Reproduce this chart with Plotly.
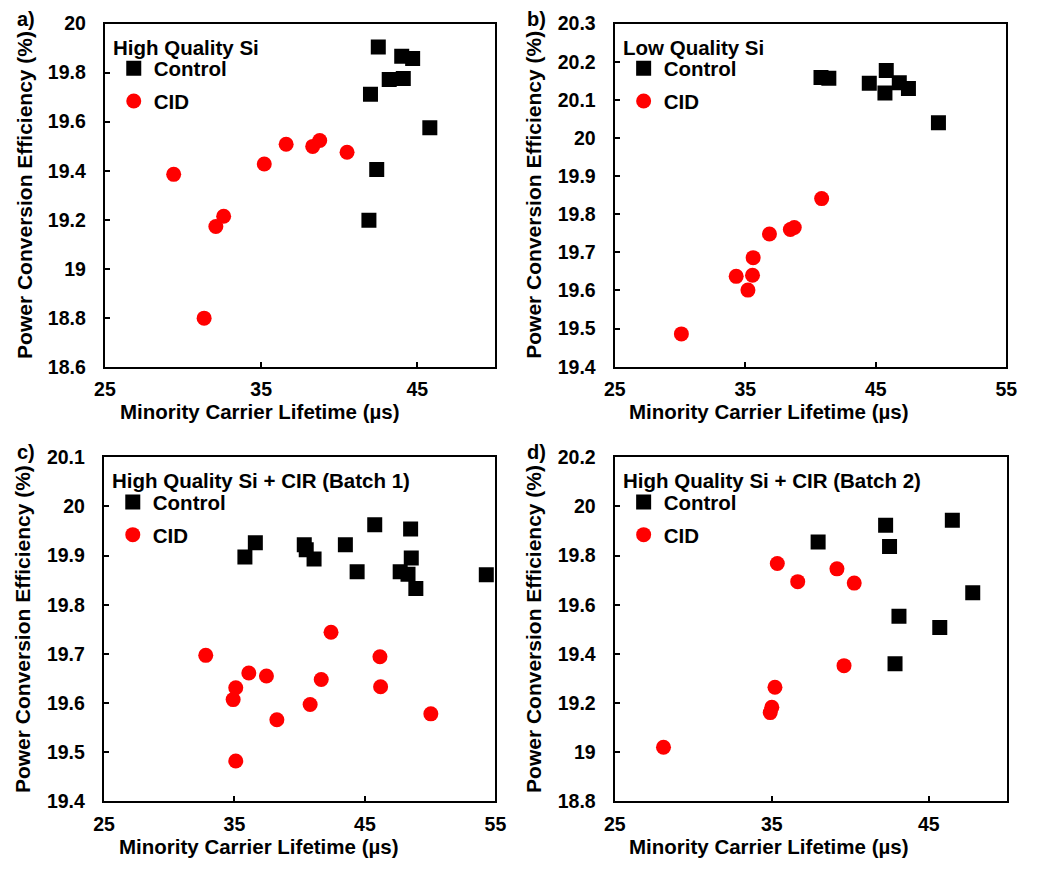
import plotly.graph_objects as go

# ---------------- data ----------------
# Panel a) High Quality Si
a_ctrl_x = [42.5, 44.0, 44.7, 43.2, 44.1, 42.0, 45.8, 42.4, 41.9]
a_ctrl_y = [19.905, 19.867, 19.858, 19.772, 19.776, 19.712, 19.575, 19.405, 19.198]
a_cid_x = [29.4, 35.2, 36.6, 38.3, 38.75, 40.5, 32.6, 32.1, 31.35]
a_cid_y = [19.385, 19.427, 19.508, 19.499, 19.523, 19.475, 19.214, 19.172, 18.798]

# Panel b) Low Quality Si
b_ctrl_x = [40.8, 41.4, 44.5, 45.8, 45.7, 46.8, 47.5, 49.8]
b_ctrl_y = [20.159, 20.157, 20.144, 20.177, 20.118, 20.145, 20.130, 20.040]
b_cid_x = [40.85, 38.45, 38.75, 36.85, 35.6, 35.55, 34.3, 35.2, 30.1]
b_cid_y = [19.841, 19.760, 19.765, 19.748, 19.686, 19.640, 19.637, 19.601, 19.486]

# Panel c) High Quality Si + CIR (Batch 1)
c_ctrl_x = [35.8, 36.6, 40.35, 40.5, 41.1, 43.5, 44.4, 45.75, 48.5, 48.55, 47.7, 48.3, 48.9, 54.3]
c_ctrl_y = [19.897, 19.926, 19.922, 19.912, 19.893, 19.922, 19.867, 19.963,
            19.954, 19.895, 19.867, 19.862, 19.833, 19.861]
c_cid_x = [32.8, 36.1, 37.45, 35.1, 34.9, 38.25, 35.1, 40.8, 41.65, 42.4, 46.15, 46.2, 50.05]
c_cid_y = [19.697, 19.661, 19.655, 19.631, 19.607, 19.566, 19.482, 19.597,
           19.648, 19.744, 19.694, 19.633, 19.578]

# Panel d) High Quality Si + CIR (Batch 2)
d_ctrl_x = [37.95, 42.25, 42.5, 46.5, 47.8, 43.1, 45.7, 42.85]
d_ctrl_y = [19.855, 19.923, 19.837, 19.944, 19.649, 19.553, 19.507, 19.360]
d_cid_x = [35.35, 36.65, 39.15, 40.25, 39.6, 35.2, 35.0, 34.9, 28.1]
d_cid_y = [19.768, 19.694, 19.746, 19.688, 19.352, 19.264, 19.183, 19.161, 19.020]

panel_titles = ["High Quality Si", "Low Quality Si",
                "High Quality Si + CIR (Batch 1)", "High Quality Si + CIR (Batch 2)"]
panel_letters = ["a)", "b)", "c)", "d)"]
x_ranges = [[25, 50], [25, 55], [25, 55], [25, 50]]
y_ranges = [[18.6, 20.0], [19.4, 20.3], [19.4, 20.1], [18.8, 20.2]]
y_dticks = [0.2, 0.1, 0.1, 0.2]
series_names = ["Control", "CID"]
x_title = "Minority Carrier Lifetime (µs)"
y_title = "Power Conversion Efficiency (%)"

ctrl_data = [(a_ctrl_x, a_ctrl_y), (b_ctrl_x, b_ctrl_y), (c_ctrl_x, c_ctrl_y), (d_ctrl_x, d_ctrl_y)]
cid_data = [(a_cid_x, a_cid_y), (b_cid_x, b_cid_y), (c_cid_x, c_cid_y), (d_cid_x, d_cid_y)]

# ---------------- layout geometry ----------------
# positions below are page pixels of the 1039x878 window; the page body keeps
# the browser's default 8px margin, so the figure is sized to fit inside it.
PAGE_W, PAGE_H = 1039, 878
OFF = 8
W, H = PAGE_W - OFF, PAGE_H - 2 * OFF
boxes = [(104, 503, 21, 373), (625, 1025, 21, 373), (103, 503, 466, 819), (625, 1026, 466, 819)]
letter_pos = [(12, 16), (533, 16), (12, 461), (533, 461)]

FONT = "Liberation Sans, Arial, sans-serif"


def bfont(size):
    return dict(family=FONT, size=size, color="black", weight="bold")


def px(x):
    return (x - OFF) / W


def py(y):
    return 1 - (y - OFF) / H


fig = go.Figure()
layout = dict(
    width=W, height=H, margin=dict(l=0, r=0, t=0, b=0),
    paper_bgcolor="white", plot_bgcolor="white",
    font=bfont(19), showlegend=True, annotations=[],
)

for i in range(4):
    sfx = "" if i == 0 else str(i + 1)
    xa, ya = "x" + sfx, "y" + sfx
    xo = "x%d" % (i + 5)          # overlay x-axis that carries the inside tick marks
    lg = "legend" + sfx
    x0, x1, y0, y1 = boxes[i]
    fig.add_trace(go.Scatter(
        x=ctrl_data[i][0], y=ctrl_data[i][1], mode="markers", name=series_names[0],
        marker=dict(symbol="square", size=15, color="black", line=dict(width=0)),
        xaxis=xa, yaxis=ya, legend=lg, legendgroup="ctrl%d" % i))
    fig.add_trace(go.Scatter(
        x=cid_data[i][0], y=cid_data[i][1], mode="markers", name=series_names[1],
        marker=dict(symbol="circle", size=15, color="#ff0000", line=dict(width=0)),
        xaxis=xa, yaxis=ya, legend=lg, legendgroup="cid%d" % i))
    # empty trace so that the overlay tick axis is always drawn
    fig.add_trace(go.Scatter(x=[], y=[], mode="markers", showlegend=False,
                             hoverinfo="skip", xaxis=xo, yaxis=ya))

    common = dict(showline=True, linewidth=2, linecolor="black", mirror=True,
                  ticks="inside", ticklen=5, tickwidth=2, tickcolor="black",
                  showgrid=False, zeroline=False, tickfont=bfont(19.5))
    # main x-axis: frame + labels (labels pushed a little below the frame)
    layout["xaxis" + sfx] = dict(
        common, domain=[px(x0), px(x1)], range=x_ranges[i], tick0=25, dtick=10,
        anchor=ya, ticks="outside", ticklen=4, tickcolor="rgba(0,0,0,0)")
    # overlay x-axis: only the inward tick marks
    layout["xaxis%d" % (i + 5)] = dict(
        overlaying=xa, anchor=ya, side="bottom", range=x_ranges[i], tick0=25, dtick=10,
        ticks="inside", ticklen=5, tickwidth=2, tickcolor="black",
        showticklabels=False, showline=False, showgrid=False, zeroline=False)
    layout["yaxis" + sfx] = dict(
        common, domain=[py(y1), py(y0)], range=y_ranges[i], tick0=y_ranges[i][0],
        dtick=y_dticks[i], anchor=xa, ticksuffix="\u00a0\u2009\u2009")
    layout[lg] = dict(
        x=px(x0 + 9), y=py(y0 + 25.5), xanchor="left", yanchor="top",
        bgcolor="rgba(0,0,0,0)", borderwidth=0, tracegroupgap=3,
        font=bfont(20.5), itemsizing="trace",
    )
    ann = layout["annotations"]
    # panel letter
    lx, ly = letter_pos[i]
    ann.append(dict(text=panel_letters[i], x=px(lx), y=py(ly), xref="paper", yref="paper",
                    xanchor="left", yanchor="middle", showarrow=False, font=bfont(20)))
    # legend heading
    ann.append(dict(text=panel_titles[i], x=px(x0 + 6), y=py(y0 + 24), xref="paper", yref="paper",
                    xanchor="left", yanchor="middle", showarrow=False, font=bfont(20.5)))
    # axis titles
    ann.append(dict(text=x_title, x=px(x0 + 158), y=py(y1 + 46), xref="paper", yref="paper",
                    xanchor="center", yanchor="middle", showarrow=False, font=bfont(20.5)))
    ann.append(dict(text=y_title, textangle=-90, x=px(x0 - 83), y=py((y0 + y1) / 2),
                    xref="paper", yref="paper", xanchor="center", yanchor="middle",
                    showarrow=False, font=bfont(21)))

fig.update_layout(**layout)
fig.write_html("out.html")
